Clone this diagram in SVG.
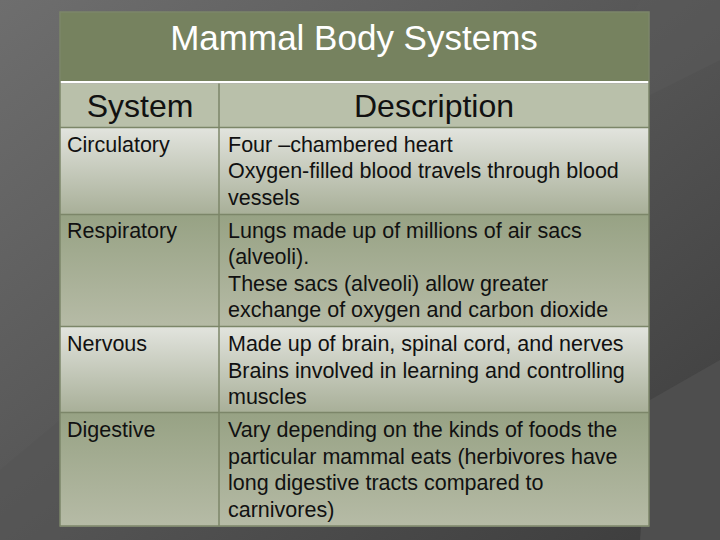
<svg xmlns="http://www.w3.org/2000/svg" width="720" height="540" viewBox="0 0 720 540">
<defs>
<linearGradient id="bg" x1="0" y1="0" x2="1" y2="1"><stop offset="0" stop-color="#6e6e6e"/><stop offset="0.5" stop-color="#555"/><stop offset="1" stop-color="#3c3c3c"/></linearGradient>
<linearGradient id="rl" x1="0" y1="0" x2="0" y2="1"><stop offset="0" stop-color="#e2e4de"/><stop offset="1" stop-color="#a8af98"/></linearGradient>
<linearGradient id="rg" x1="0" y1="0" x2="0" y2="1"><stop offset="0" stop-color="#97a284"/><stop offset="1" stop-color="#b6bba6"/></linearGradient>
<style>
text{font-family:"Liberation Sans",Arial,sans-serif;fill:#111}
.b{font-size:21.5px}
.h{font-size:32px;text-anchor:middle}
.line{stroke:#7c8669;stroke-width:1.5}
</style>
</defs>
<rect width="720" height="540" fill="url(#bg)"/>
<polygon points="640,0 720,0 720,60 560,140" fill="#5a5a5a" opacity="0.5"/>
<polygon points="650,400 720,360 720,540 640,540" fill="#4e4e4e"/>
<polygon points="0,470 60,420 60,540 0,540" fill="#555" opacity="0.6"/>
<g id="table">
<rect x="60" y="12" width="589" height="69" fill="#76825f"/>
<rect x="60" y="81" width="589" height="2.5" fill="#fff"/>
<rect x="60" y="83.5" width="589" height="44" fill="#b9c0aa"/>
<rect x="60" y="127.5" width="589" height="87" fill="url(#rl)"/>
<rect x="60" y="214.5" width="589" height="112" fill="url(#rg)"/>
<rect x="60" y="326.5" width="589" height="86" fill="url(#rl)"/>
<rect x="60" y="412.5" width="589" height="114" fill="url(#rg)"/>
<g class="line">
<line x1="60" y1="127.5" x2="649" y2="127.5"/><line x1="60" y1="214.5" x2="649" y2="214.5"/>
<line x1="60" y1="326.5" x2="649" y2="326.5"/><line x1="60" y1="412.5" x2="649" y2="412.5"/>
<line x1="219" y1="83.5" x2="219" y2="526"/>
<rect x="60" y="12" width="589" height="514" fill="none"/>
</g>
</g>
<g id="title"><text x="354" y="50" style="font-size:35px;fill:#fff;text-anchor:middle">Mammal Body Systems</text></g>
<g id="headers"><text class="h" x="140" y="117">System</text><text class="h" x="434" y="117">Description</text></g>
<g id="circulatory"><text class="b" x="67" y="152">Circulatory</text>
<text class="b" x="228" y="152">Four –chambered heart</text><text class="b" x="228" y="178">Oxygen-filled blood travels through blood</text><text class="b" x="228" y="205">vessels</text></g>
<g id="respiratory"><text class="b" x="67" y="238">Respiratory</text>
<text class="b" x="228" y="238">Lungs made up of millions of air sacs</text><text class="b" x="228" y="264">(alveoli).</text><text class="b" x="228" y="291">These sacs (alveoli) allow greater</text><text class="b" x="228" y="317">exchange of oxygen and carbon dioxide</text></g>
<g id="nervous"><text class="b" x="67" y="351">Nervous</text>
<text class="b" x="228" y="351">Made up of brain, spinal cord, and nerves</text><text class="b" x="228" y="378">Brains involved in learning and controlling</text><text class="b" x="228" y="404">muscles</text></g>
<g id="digestive"><text class="b" x="67" y="437">Digestive</text>
<text class="b" x="228" y="437">Vary depending on the kinds of foods the</text><text class="b" x="228" y="464">particular mammal eats (herbivores have</text><text class="b" x="228" y="490">long digestive tracts compared to</text><text class="b" x="228" y="517">carnivores)</text></g>
</svg>
